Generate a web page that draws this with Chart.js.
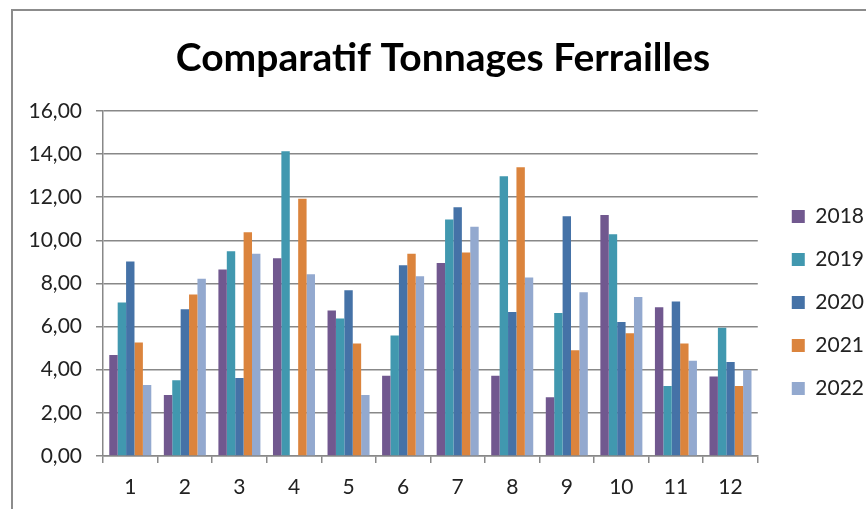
<!DOCTYPE html>
<html>
<head>
<meta charset="utf-8">
<script src="https://cdn.jsdelivr.net/npm/chart.js@4.4.1/dist/chart.umd.min.js"></script>
<style>
  html, body { margin: 0; padding: 0; background: #fff; overflow: hidden; }
  .wrap { position: relative; width: 866px; height: 509px; overflow: hidden; }
  .frame { position: absolute; left: 11px; top: 9px; width: 900px; height: 600px; border: 2px solid #8c8c8c; box-sizing: border-box; }
  canvas { position: absolute; left: 0; top: 0; }
</style>
</head>
<body>
<div class="wrap">
  <div class="frame"></div>
  <canvas id="myChart" width="900" height="509"></canvas>
</div>
<script>
const months = ['1', '2', '3', '4', '5', '6', '7', '8', '9', '10', '11', '12'];

const t2018 = [4.68, 2.83, 8.64, 9.17, 6.74, 3.72, 8.95, 3.72, 2.72, 11.17, 6.89, 3.68];
const t2019 = [7.11, 3.51, 9.49, 14.13, 6.37, 5.58, 10.96, 12.97, 6.63, 10.28, 3.25, 5.95];
const t2020 = [9.01, 6.80, 3.62, null, 7.68, 8.84, 11.53, 6.68, 11.11, 6.21, 7.16, 4.36];
const t2021 = [5.26, 7.48, 10.37, 11.92, 5.21, 9.38, 9.43, 13.38, 4.90, 5.69, 5.21, 3.25];
const t2022 = [3.29, 8.21, 9.38, 8.42, 2.83, 8.33, 10.63, 8.27, 7.59, 7.37, 4.42, 3.99];

const gridGray = '#888888';
const font = 'Lato, "Open Sans", sans-serif';

const serie = (label, data, color) => ({
    label: label,
    data: data,
    backgroundColor: color,
    borderWidth: 0,
    barPercentage: 1,
    categoryPercentage: 0.77
});

new Chart(document.getElementById('myChart'), {
    type: 'bar',
    data: {
        labels: months,
        datasets: [
            serie('2018', t2018, '#71588f'),
            serie('2019', t2019, '#4198af'),
            serie('2020', t2020, '#4572a7'),
            serie('2021', t2021, '#db843d'),
            serie('2022', t2022, '#93a9cf')
        ]
    },
    options: {
        responsive: false,
        animation: false,
        layout: { padding: { left: 12, top: 10, right: 26, bottom: 0 } },
        plugins: {
            tooltip: { enabled: false },
            title: {
                display: true,
                text: 'Comparatif Tonnages Ferrailles',
                color: '#000',
                font: { family: font, size: 39, weight: 'bold' },
                padding: { top: 25, bottom: 29 }
            },
            legend: {
                position: 'right',
                // empty title only pushes the items down
                title: { display: true, text: ' ', font: { size: 10 }, padding: { top: 74, bottom: 0 } },
                labels: {
                    color: '#222',
                    font: { family: font, size: 21 },
                    boxWidth: 13,
                    boxHeight: 13,
                    padding: 22
                }
            }
        },
        scales: {
            x: {
                grid: { offset: true, drawOnChartArea: false, drawTicks: true, tickLength: 7, color: gridGray, lineWidth: 1.5 },
                border: { display: true, color: gridGray, width: 1.5 },
                ticks: { color: '#222', font: { family: font, size: 21 }, padding: 12 },
                afterFit: s => { s.height = 53; }
            },
            y: {
                min: 0,
                max: 16,
                ticks: {
                    stepSize: 2,
                    color: '#222',
                    font: { family: font, size: 21 },
                    padding: 14,
                    callback: v => v.toFixed(2).replace('.', ',')
                },
                grid: { color: gridGray, lineWidth: 1.5, tickLength: 7 },
                border: { display: true, color: gridGray, width: 1.5 },
                afterFit: s => { s.width = 91; }
            },
            pad: {
                type: 'linear',
                position: 'right',
                grid: { display: false, drawTicks: false },
                border: { display: false },
                ticks: { display: false },
                afterFit: s => { s.width = 12; }
            }
        }
    }
});
</script>
</body>
</html>
